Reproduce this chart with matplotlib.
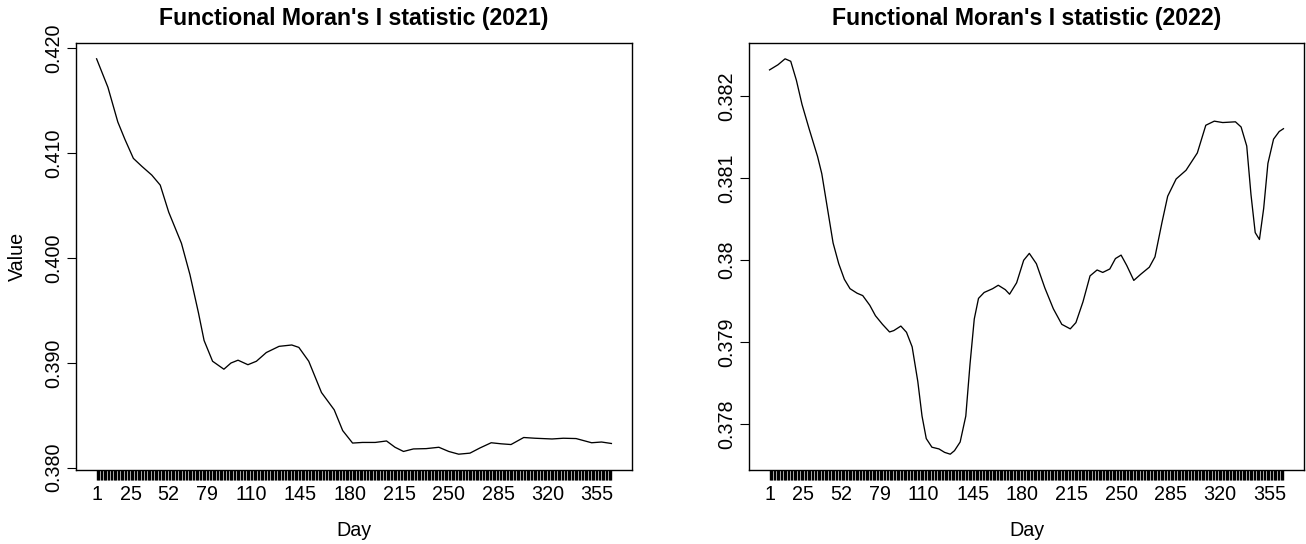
import matplotlib
matplotlib.use("Agg")
import matplotlib.pyplot as plt
from matplotlib.ticker import FixedLocator, FixedFormatter

# --- data ----------------------------------------------------------------

days_2021 = [1, 9, 16, 21, 27, 33, 40, 46, 52, 61, 67, 73, 77, 83, 91, 96,
             101, 108, 114, 121, 130, 139, 144, 151, 160, 169, 175, 182, 189,
             198, 206, 212, 218, 225, 234, 243, 250, 257, 265, 272, 280, 287,
             294, 303, 311, 323, 331, 340, 351, 358, 365]
vals_2021 = [0.41898, 0.41627, 0.41296, 0.41131, 0.40949, 0.40873, 0.40790,
             0.40694, 0.40436, 0.40139, 0.39841, 0.39478, 0.39213, 0.39015,
             0.38939, 0.38998, 0.39025, 0.38982, 0.39015, 0.39098, 0.39157,
             0.39170, 0.39147, 0.39015, 0.38717, 0.38552, 0.38354, 0.38235,
             0.38241, 0.38241, 0.38255, 0.38195, 0.38155, 0.38179, 0.38182,
             0.38195, 0.38155, 0.38129, 0.38139, 0.38188, 0.38238, 0.38228,
             0.38221, 0.38288, 0.38281, 0.38274, 0.38281, 0.38278, 0.38238,
             0.38245, 0.38231]

days_2022 = [1, 7, 12, 16, 20, 24, 29, 35, 38, 42, 46, 50, 54, 58, 63, 67,
             72, 76, 81, 86, 89, 94, 98, 102, 106, 109, 112, 116, 121, 125,
             129, 132, 136, 140, 143, 146, 149, 153, 159, 163, 168, 171, 176,
             181, 185, 190, 196, 202, 208, 214, 218, 223, 228, 233, 237, 242,
             246, 250, 254, 259, 264, 270, 274, 279, 283, 289, 296, 304, 310,
             316, 322, 331, 335, 339, 342, 345, 348, 351, 354, 358, 362, 365]
vals_2022 = [0.382316, 0.382379, 0.382451, 0.382421, 0.382190, 0.381895,
             0.381600, 0.381262, 0.381052, 0.380630, 0.380209, 0.379956,
             0.379766, 0.379652, 0.379597, 0.379568, 0.379450, 0.379323,
             0.379218, 0.379125, 0.379142, 0.379197, 0.379121, 0.378944,
             0.378523, 0.378101, 0.377827, 0.377722, 0.377701, 0.377659,
             0.377637, 0.377680, 0.377785, 0.378101, 0.378735, 0.379283,
             0.379534, 0.379606, 0.379652, 0.379694, 0.379640, 0.379585,
             0.379724, 0.379998, 0.380082, 0.379956, 0.379661, 0.379408,
             0.379218, 0.379163, 0.379239, 0.379492, 0.379808, 0.379880,
             0.379850, 0.379892, 0.380019, 0.380061, 0.379935, 0.379753,
             0.379829, 0.379914, 0.380040, 0.380462, 0.380778, 0.380988,
             0.381094, 0.381305, 0.381642, 0.381692, 0.381675, 0.381684,
             0.381621, 0.381389, 0.380799, 0.380335, 0.380251, 0.380630,
             0.381178, 0.381473, 0.381566, 0.381600]

day_labels = [1, 25, 52, 79, 110, 145, 180, 215, 250, 285, 320, 355]

yticks_2021 = [0.380, 0.390, 0.400, 0.410, 0.420]
ylabels_2021 = ["0.380", "0.390", "0.400", "0.410", "0.420"]
yticks_2022 = [0.378, 0.379, 0.380, 0.381, 0.382]
ylabels_2022 = ["0.378", "0.379", "0.38", "0.381", "0.382"]

W, H = 1306, 544
FONT = "Liberation Sans"
FS = 14.2

plt.rcParams.update({
    "font.family": [FONT, "DejaVu Sans"],
    "font.size": FS,
    "axes.linewidth": 1.0,
})


def r_limits(lo, hi):
    # R's default 4% axis extension
    pad = (hi - lo) * 0.04
    return lo - pad, hi + pad


def draw_panel(fig, box, days, vals, yticks, ylabels, title, ylabel=None):
    x0, y0, x1, y1 = box  # pixel box, y from top
    ax = fig.add_axes([x0 / W, 1 - y1 / H, (x1 - x0) / W, (y1 - y0) / H])
    ax.plot(days, vals, color="black", lw=0.95)
    ax.set_xlim(*r_limits(1, 365))
    ax.set_ylim(*r_limits(min(vals), max(vals)))

    ax.xaxis.set_major_locator(FixedLocator(day_labels))
    ax.xaxis.set_major_formatter(FixedFormatter([str(d) for d in day_labels]))
    ax.xaxis.set_minor_locator(FixedLocator(list(range(1, 366))))
    ax.tick_params(axis="x", which="both", length=7.2, width=1.0,
                   direction="out", pad=3.5)
    ax.yaxis.set_major_locator(FixedLocator(yticks))
    ax.yaxis.set_major_formatter(FixedFormatter(ylabels))
    ax.tick_params(axis="y", length=6.5, width=0.8, pad=3.0,
                   labelrotation=90)
    for lab in ax.get_yticklabels():
        lab.set_va("center")

    cx = (x0 + x1) / 2 / W
    fig.text(cx, 1 - 19 / H, title, ha="center", va="center",
             fontsize=16.7, fontweight="bold")
    fig.text(cx, 1 - 530 / H, "Day", ha="center", va="center", fontsize=FS)
    if ylabel:
        fig.text(17 / W, 1 - (y0 + y1) / 2 / H, ylabel, rotation=90,
                 ha="center", va="center", fontsize=FS)
    return ax


fig = plt.figure(figsize=(W / 100, H / 100), dpi=100)
draw_panel(fig, (76, 43, 632, 470), days_2021, vals_2021,
           yticks_2021, ylabels_2021,
           "Functional Moran's I statistic (2021)", ylabel="Value")
draw_panel(fig, (749, 43, 1304, 470), days_2022, vals_2022,
           yticks_2022, ylabels_2022,
           "Functional Moran's I statistic (2022)")
fig.savefig("out.png", dpi=100)
